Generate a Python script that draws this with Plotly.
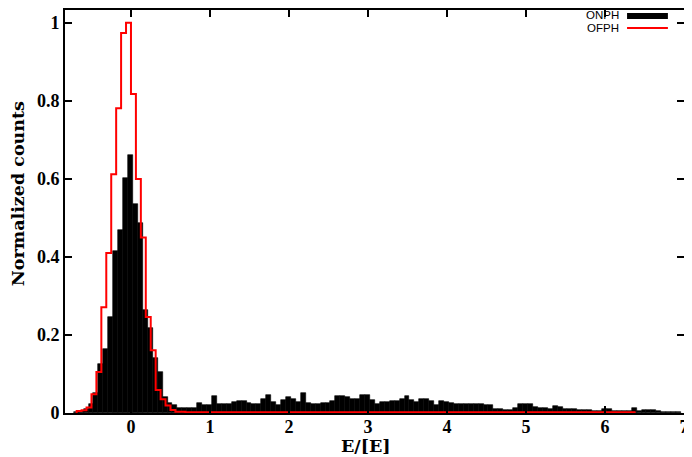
"""ONPH / OFPH normalized energy histograms, gnuplot-like look."""
import plotly.graph_objects as go

BIN = 0.0625

# ONPH: filled black histogram, first bin centre and normalized counts per bin
ONPH_FIRST_CENTER = -0.69375
ONPH = [
    0.003, 0.005, 0.010, 0.024, 0.050, 0.125, 0.165, 0.245, 0.416, 0.469,
    0.603, 0.661, 0.535, 0.487, 0.263, 0.217, 0.140, 0.105, 0.040, 0.026,
    0.020, 0.012, 0.012, 0.013, 0.014, 0.025, 0.020, 0.020, 0.043, 0.023,
    0.023, 0.023, 0.029, 0.031, 0.031, 0.025, 0.023, 0.022, 0.035, 0.046,
    0.028, 0.020, 0.033, 0.042, 0.037, 0.029, 0.050, 0.025, 0.024, 0.024,
    0.026, 0.026, 0.031, 0.043, 0.043, 0.042, 0.037, 0.035, 0.046, 0.046,
    0.033, 0.023, 0.029, 0.029, 0.031, 0.031, 0.035, 0.043, 0.033, 0.029,
    0.037, 0.037, 0.031, 0.020, 0.030, 0.028, 0.025, 0.023, 0.022, 0.023,
    0.023, 0.022, 0.022, 0.020, 0.020, 0.010, 0.009, 0.008, 0.008, 0.012,
    0.022, 0.022, 0.022, 0.015, 0.012, 0.012, 0.009, 0.018, 0.016, 0.010,
    0.009, 0.009, 0.008, 0.008, 0.007, 0.006, 0.006, 0.009, 0.011, 0.005,
    0.005, 0.004, 0.005, 0.014, 0.005, 0.007, 0.007, 0.007, 0.004, 0.003,
    0.003, 0.003, 0.003,
]

# OFPH: red step outline, first bin left edge and normalized counts per bin
OFPH_FIRST_EDGE = -0.6875
OFPH = [
    0.005, 0.007, 0.014, 0.048, 0.105, 0.271, 0.410, 0.612, 0.781, 0.974,
    1.000, 0.818, 0.600, 0.450, 0.246, 0.161, 0.059, 0.035, 0.019, 0.008,
    0.003, 0.003, 0.002, 0.002, 0.002, 0.002, 0.002, 0.002, 0.002, 0.002,
    0.002, 0.002, 0.002, 0.002, 0.002, 0.002, 0.002, 0.002, 0.002, 0.002,
    0.002, 0.002, 0.002, 0.002, 0.002, 0.002, 0.002, 0.002, 0.002, 0.002,
    0.002, 0.002, 0.002, 0.002, 0.002, 0.002, 0.002, 0.002, 0.002, 0.002,
    0.002, 0.002, 0.002, 0.002, 0.002, 0.002, 0.002, 0.002, 0.002, 0.002,
    0.002, 0.002, 0.002, 0.002, 0.002, 0.002, 0.002, 0.002, 0.002, 0.002,
    0.002, 0.002, 0.002, 0.002, 0.002, 0.002, 0.002, 0.002, 0.002, 0.002,
    0.002, 0.002, 0.002, 0.002, 0.002, 0.002, 0.002, 0.002, 0.002, 0.002,
    0.002, 0.002, 0.002, 0.002, 0.002, 0.002, 0.002, 0.002, 0.002, 0.002,
    0.002, 0.002, 0.002,
]

X_TICKS = [0, 1, 2, 3, 4, 5, 6, 7]
Y_TICKS = [0, 0.2, 0.4, 0.6, 0.8, 1]

onph_x = [ONPH_FIRST_CENTER + i * BIN for i in range(len(ONPH))]

# step outline: rise at the first edge, one point per bin, drop at the last edge
edges = [OFPH_FIRST_EDGE + i * BIN for i in range(len(OFPH) + 1)]
ofph_x = [edges[0]] + edges[:-1] + [edges[-1]]
ofph_y = [0] + OFPH + [0]

fig = go.Figure()
fig.add_trace(go.Bar(x=onph_x, y=ONPH, width=BIN, name="ONPH",
                     marker=dict(color="black", line=dict(color="black", width=0.6))))
fig.add_trace(go.Scatter(x=ofph_x, y=ofph_y, mode="lines", name="OFPH",
                         line=dict(color="#ff0000", width=2, shape="hv")))

tickfont = dict(family="Liberation Serif, Times New Roman, serif", size=18,
                color="black", weight="bold")
titlefont = dict(family="DejaVu Serif, serif", size=17.5, color="black", weight="bold")
axis = dict(showline=True, linecolor="black", linewidth=2, mirror="allticks",
            ticks="inside", ticklen=7, tickwidth=1.5, tickcolor="black",
            showgrid=False, zeroline=False, tickfont=tickfont,
            ticklabeloverflow="allow")

# the page body adds an 8px offset, so the figure is sized to the rest of the window
fig.update_layout(
    width=684, height=449, plot_bgcolor="white", paper_bgcolor="white",
    margin=dict(l=57, r=8, t=0, b=44), bargap=0, showlegend=False,
    xaxis=dict(axis, range=[-0.835, 7], tickvals=X_TICKS, ticklabelstandoff=-4),
    yaxis=dict(axis, range=[0, 1.033], tickvals=Y_TICKS),
)

# axis titles placed like gnuplot's
fig.add_annotation(x=0.486, y=-0.0815, xref="paper", yref="paper", text="E/[E]",
                   showarrow=False, xanchor="center", yanchor="middle", font=titlefont)
fig.add_annotation(x=-0.0759, y=0.543, xref="paper", yref="paper",
                   text="Normalized counts", textangle=-90, showarrow=False,
                   xanchor="center", yanchor="middle", font=titlefont, borderpad=0)

# gnuplot-style key: label on the left, sample on the right
sans = dict(family="Liberation Sans, Arial, sans-serif", size=11.5, color="black")
for label, yy in [("ONPH", 0.9864), ("OFPH", 0.9543)]:
    fig.add_annotation(x=0.897, y=yy, xref="paper", yref="paper", text=label,
                       showarrow=False, xanchor="right", yanchor="middle", font=sans,
                       borderpad=0)
fig.add_shape(type="rect", xref="paper", yref="paper", x0=0.908, x1=0.974,
              y0=0.9778, y1=0.9926, fillcolor="black", line=dict(width=0))
fig.add_shape(type="line", xref="paper", yref="paper", x0=0.908, x1=0.974,
              y0=0.9556, y1=0.9556, line=dict(color="#ff0000", width=2))

fig.write_html("out.html")
